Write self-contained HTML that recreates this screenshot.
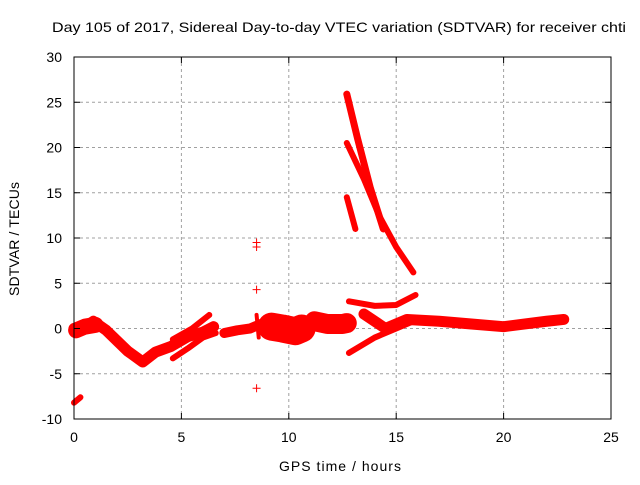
<!DOCTYPE html>
<html><head><meta charset="utf-8"><style>
body{margin:0;background:#fff;}
svg text{font-family:"Liberation Sans",sans-serif;font-size:14px;fill:#000;}
</style></head><body>
<svg id="c" width="640" height="480" xmlns="http://www.w3.org/2000/svg">
<rect width="640" height="480" fill="#fff"/>
<g id="grid"></g><g id="series"></g><g id="axes"></g>
<text x="52" y="32" textLength="574" lengthAdjust="spacingAndGlyphs">Day 105 of 2017, Sidereal Day-to-day VTEC variation (SDTVAR) for receiver chti</text>
<text x="340" y="471" text-anchor="middle" textLength="122">GPS time / hours</text>
<text transform="translate(19,239) rotate(-90)" text-anchor="middle" textLength="114">SDTVAR / TECUs</text>
</svg>
<script>
const xTicks=[0,5,10,15,20,25];
const yTicks=[-10,-5,0,5,10,15,20,25,30];
const trackA=[[0,0],[0.4,0],[0.9,0.8],[1.5,-0.2],[2.5,-2.5],[3.2,-3.7],[3.8,-2.6],[4.5,-2],[5.3,-0.9],[6,-0.4],[6.5,0.2]];
const trackA2=[[0.1,-0.2],[0.5,0.2],[1,0.4]];
const trackB=[[4.6,-1.2],[5.5,0],[6.3,1.5]];
const trackC=[[4.6,-3.3],[5.3,-2.2],[6,-1],[6.6,-0.5]];
const trackD=[[7,-0.5],[7.6,-0.2],[8.2,0],[8.7,0.5]];
const trackE=[[8.5,1.5],[8.6,-1]];
const trackF=[[9.2,0.2],[9.7,0],[10.3,-0.3],[10.6,0]];
const trackG=[[11.2,0.8],[11.8,0.5],[12.5,0.5],[12.7,0.6]];
const trackH=[[0,-8.2],[0.3,-7.6]];
const trackI=[[12.7,25.9],[13.2,21],[13.8,15.5],[14.4,11]];
const trackJ=[[12.7,20.5],[13.5,16.5],[14.2,12.5],[15,9],[15.8,6.2]];
const trackK=[[12.7,14.5],[13.1,11]];
const trackL=[[12.8,3],[14,2.5],[15,2.6],[15.9,3.7]];
const trackM=[[12.8,-2.7],[14,-1],[15,0],[16,1]];
const trackN=[[13.5,1.6],[14.5,0],[15.5,1],[17,0.8],[18.5,0.5],[20,0.2],[21,0.5],[22,0.8],[22.8,1]];
const tracks=[trackA,trackA2,trackB,trackC,trackD,trackE,trackF,trackG,trackH,trackI,trackJ,trackK,trackL,trackM,trackN];
const widths=[11,16,6,6,10,4,28,20,6,7,6,6,6,6,11];
const singles=[[8.5,9.5],[8.5,9],[8.5,4.3],[8.5,-6.6]];
const X0=74,X1=611,Y0=419,Y1=57;
function xs(v){return X0+(v-0)/(25-0)*(X1-X0);}
function ys(v){return Y0-(v+10)/40*(Y0-Y1);}
const NS="http://www.w3.org/2000/svg";
function mk(t,a,p){const e=document.createElementNS(NS,t);for(const k in a)e.setAttribute(k,a[k]);p.appendChild(e);return e;}
const grid=document.getElementById('grid'),ax=document.getElementById('axes'),se=document.getElementById('series');
xTicks.forEach(t=>{const x=xs(t);
 if(t>0&&t<25){const l=mk('line',{x1:x,x2:x,y1:Y1,y2:Y0,stroke:'#a0a0a0','stroke-dasharray':'3,3'},grid);
 
 }
 mk('line',{x1:x,x2:x,y1:Y0,y2:Y0-6,stroke:'#000'},ax);mk('line',{x1:x,x2:x,y1:Y1,y2:Y1+6,stroke:'#000'},ax);
 const tx=mk('text',{x:x,y:Y0+23,'text-anchor':'middle'},ax);tx.textContent=t;
 
 });
yTicks.forEach(t=>{const y=ys(t);
 if(t>-10&&t<30){const l=mk('line',{x1:X0,x2:X1,y1:y,y2:y,stroke:'#a0a0a0','stroke-dasharray':'3,3'},grid);
 
 }
 mk('line',{x1:X0,x2:X0+6,y1:y,y2:y,stroke:'#000'},ax);mk('line',{x1:X1,x2:X1-6,y1:y,y2:y,stroke:'#000'},ax);
 const tx=mk('text',{x:X0-12,y:y+5,'text-anchor':'end'},ax);tx.textContent=t;
 
 });
const fr=mk('rect',{x:X0,y:Y1,width:X1-X0,height:Y0-Y1,fill:'none',stroke:'#000'},ax);


tracks.forEach((tr,i)=>{const p=mk('polyline',{points:tr.map(d=>xs(d[0])+','+ys(d[1])).join(' '),fill:'none',stroke:'#f00','stroke-width':widths[i],'stroke-linejoin':'round','stroke-linecap':'round'},se);
 
 });
singles.forEach(d=>{const x=xs(d[0]),y=ys(d[1]);
 const p=mk('path',{d:`M${x-4},${y}H${x+4}M${x},${y-4}V${y+4}`,stroke:'#f00','stroke-width':1},se);
 
 });
</script>
</body></html>
